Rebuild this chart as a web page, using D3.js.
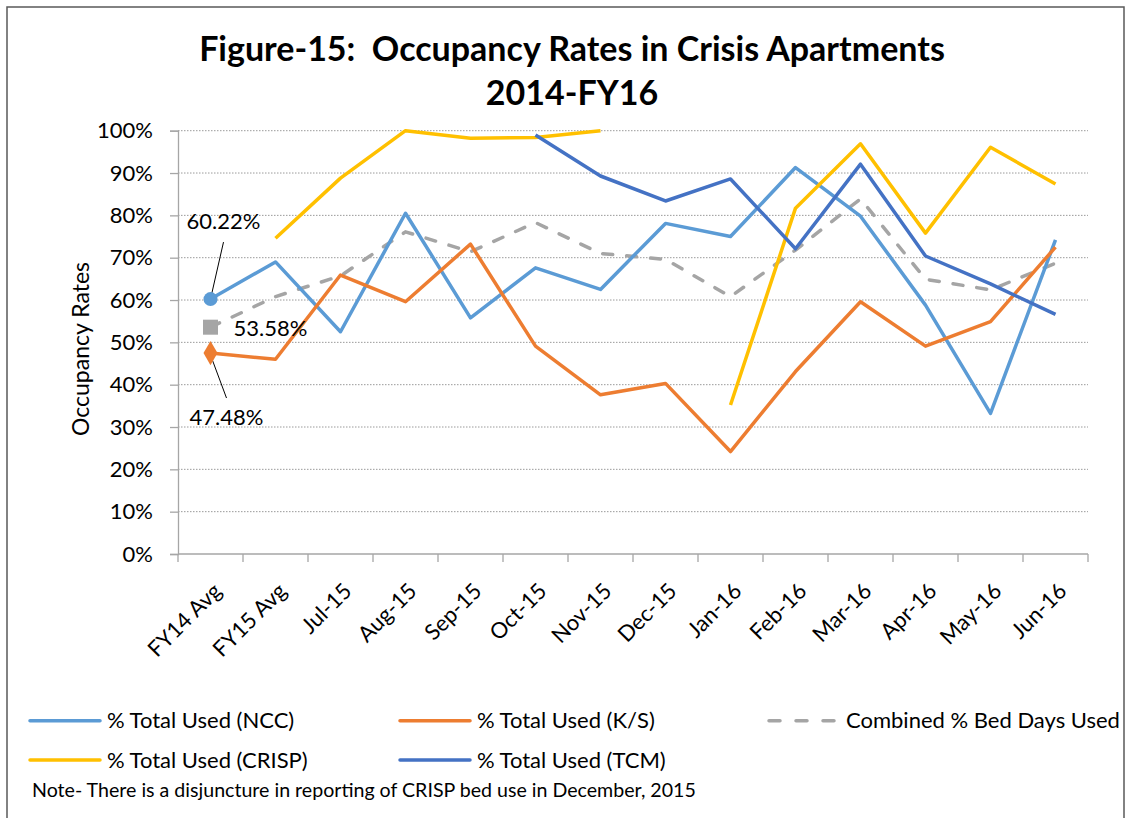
<!DOCTYPE html>
<html>
<head>
<meta charset="utf-8">
<script src="https://cdn.jsdelivr.net/npm/d3@7"></script>
<style>
  body { margin: 0; background: #fff; }
  svg { display: block; font-family: Lato, "Open Sans", sans-serif; }
</style>
</head>
<body>
<div id="chart"></div>
<script>
// categories on the x axis
const categories = ['FY14 Avg', 'FY15 Avg', 'Jul-15', 'Aug-15', 'Sep-15', 'Oct-15', 'Nov-15',
   'Dec-15', 'Jan-16', 'Feb-16', 'Mar-16', 'Apr-16', 'May-16', 'Jun-16']

// series values (percent), null = no report
const ncc = [60.22, 69.0, 52.5, 80.5, 55.8, 67.6, 62.5, 78.1, 75.0, 91.3, 79.8, 58.8, 33.2, 74.2]
const ks = [47.48, 46.0, 65.9, 59.6, 73.2, 49.1, 37.6, 40.3, 24.2, 43.1, 59.6, 49.1, 54.9, 72.5]
const combined = [53.58, 60.8, 65.7, 76.1, 71.4, 78.3, 71.0, 69.6, 60.8, 71.8, 83.9, 64.9, 62.4, 68.7]
const crisp = [null, 74.6, 88.8, 100, 98.2, 98.4, 100, null, 35.2, 81.7, 96.9, 75.8, 96.1, 87.4]
const tcm = [null, null, null, null, null, 99.0, 89.3, 83.4, 88.6, 72.1, 92.1, 70.4, 63.8, 56.6]

const yTicks = [0, 10, 20, 30, 40, 50, 60, 70, 80, 90, 100]

const seriesNames = ['% Total Used (NCC)', '% Total Used (K/S)', 'Combined % Bed Days Used',
   '% Total Used (CRISP)', '% Total Used (TCM)']

const series = [
   { name: seriesNames[0], values: ncc, color: '#5B9BD5' },
   { name: seriesNames[1], values: ks, color: '#ED7D31' },
   { name: seriesNames[2], values: combined, color: '#A5A5A5', dash: '10 14' },
   { name: seriesNames[3], values: crisp, color: '#FFC000' },
   { name: seriesNames[4], values: tcm, color: '#4472C4' },
]
// draw order (back to front) as in the original
const drawOrder = [2, 0, 1, 3, 4]

const width = 1131
const height = 818
const plot = { left: 178, right: 1088, top: 130.7, bottom: 554 }

const svg = d3.select('#chart').append('svg')
   .attr('width', width)
   .attr('height', height)

svg.append('rect')
   .attr('x', 7).attr('y', 7)
   .attr('width', 1117).attr('height', 840)
   .attr('fill', '#fff')
   .attr('stroke', '#595959')
   .attr('stroke-width', 1.5)

const x = d3.scaleBand().domain(categories).range([plot.left, plot.right])
const cx = d => x(d) + x.bandwidth() / 2
const y = d3.scaleLinear().domain([0, 100]).range([plot.bottom, plot.top])

// title
const title = svg.append('g')
   .attr('font-weight', 'bold')
   .attr('font-size', 34)
   .attr('text-anchor', 'middle')
title.append('text')
   .attr('x', 572).attr('y', 61)
   .style('white-space', 'pre')
   .text('Figure-15:  Occupancy Rates in Crisis Apartments')
title.append('text')
   .attr('x', 572).attr('y', 105)
   .text('2014-FY16')

// gridlines
svg.append('g')
   .selectAll('line')
   .data(yTicks.filter(d => d > 0))
   .join('line')
   .attr('x1', plot.left).attr('x2', plot.right)
   .attr('y1', d => y(d)).attr('y2', d => y(d))
   .attr('stroke', '#9a9a9a')
   .attr('stroke-width', 1)
   .attr('stroke-dasharray', '1.5 1.5')

// y axis
const yAxis = svg.append('g')
   .attr('transform', `translate(${plot.left},0)`)
   .call(d3.axisLeft(y).tickValues(yTicks).tickFormat(d => d + '%').tickSize(8).tickPadding(17))
yAxis.select('.domain').attr('stroke', '#a6a6a6').attr('stroke-width', 1.3)
yAxis.selectAll('.tick line').attr('stroke', '#a6a6a6').attr('stroke-width', 1.3)
yAxis.selectAll('.tick text')
   .attr('font-size', 22)
   .attr('font-family', 'Lato, sans-serif')
   .attr('fill', '#000')

svg.append('text')
   .attr('transform', 'translate(89,349) rotate(-90)')
   .attr('text-anchor', 'middle')
   .attr('font-size', 23)
   .text('Occupancy Rates')

// x axis (ticks between categories)
const boundaries = categories.map(c => x(c)).concat([plot.right])
const xAxis = svg.append('g')
xAxis.append('line')
   .attr('x1', plot.left).attr('x2', plot.right)
   .attr('y1', plot.bottom).attr('y2', plot.bottom)
   .attr('stroke', '#a6a6a6').attr('stroke-width', 1.3)
xAxis.selectAll('.xtick')
   .data(boundaries)
   .join('line')
   .attr('class', 'xtick')
   .attr('x1', d => d).attr('x2', d => d)
   .attr('y1', plot.bottom).attr('y2', plot.bottom + 8)
   .attr('stroke', '#a6a6a6').attr('stroke-width', 1.3)
xAxis.selectAll('.xlabel')
   .data(categories)
   .join('text')
   .attr('class', 'xlabel')
   .attr('transform', d => `translate(${cx(d) + 7},${plot.bottom + 33}) rotate(-45)`)
   .attr('text-anchor', 'end')
   .attr('dy', '0.35em')
   .attr('font-size', 22)
   .text(d => d)

// lines
const line = d3.line()
   .defined(d => d.v != null)
   .x(d => cx(d.c))
   .y(d => y(d.v))

svg.append('g')
   .selectAll('path')
   .data(drawOrder.map(i => series[i]))
   .join('path')
   .attr('d', s => line(s.values.map((v, i) => ({ c: categories[i], v }))))
   .attr('fill', 'none')
   .attr('stroke', s => s.color)
   .attr('stroke-width', 3.5)
   .attr('stroke-linejoin', 'round')
   .attr('stroke-linecap', s => s.dash ? 'round' : 'butt')
   .attr('stroke-dasharray', s => s.dash || null)

// markers + labels on the first category
const fmt = v => d3.format('.2f')(v) + '%'
const x0 = cx(categories[0])
const marks = svg.append('g')

marks.append('line')
   .attr('x1', x0 + 13).attr('y1', y(ncc[0]) - 57)
   .attr('x2', x0).attr('y2', y(ncc[0]))
   .attr('stroke', '#000').attr('stroke-width', 1)
marks.append('circle')
   .attr('cx', x0).attr('cy', y(ncc[0])).attr('r', 7)
   .attr('fill', series[0].color)
marks.append('text')
   .attr('x', x0 + 13).attr('y', y(ncc[0]) - 70)
   .attr('text-anchor', 'middle')
   .attr('font-size', 22)
   .text(fmt(ncc[0]))

marks.append('rect')
   .attr('x', x0 - 7.5).attr('y', y(combined[0]) - 7.5)
   .attr('width', 15).attr('height', 15)
   .attr('fill', series[2].color)
marks.append('text')
   .attr('x', x0 + 23).attr('y', y(combined[0]) + 8.5)
   .attr('font-size', 22)
   .text(fmt(combined[0]))

marks.append('line')
   .attr('x1', x0).attr('y1', y(ks[0]) + 2)
   .attr('x2', x0 + 16).attr('y2', y(ks[0]) + 45)
   .attr('stroke', '#000').attr('stroke-width', 1)
marks.append('path')
   .attr('d', d3.symbol(d3.symbolDiamond, 170)())
   .attr('transform', `translate(${x0},${y(ks[0])})`)
   .attr('fill', series[1].color)
marks.append('text')
   .attr('x', x0 + 16).attr('y', y(ks[0]) + 72)
   .attr('text-anchor', 'middle')
   .attr('font-size', 22)
   .text(fmt(ks[0]))

// legend
const legendCols = [30, 400, 769]
const legendRows = [720.7, 760]
const legend = svg.append('g')
   .selectAll('g')
   .data(series)
   .join('g')
   .attr('transform', (d, i) => `translate(${legendCols[i % 3]},${legendRows[Math.floor(i / 3)]})`)
legend.append('line')
   .attr('x1', 0).attr('x2', 70)
   .attr('stroke', d => d.color)
   .attr('stroke-width', 3.5)
   .attr('stroke-linecap', 'round')
   .attr('stroke-dasharray', d => d.dash ? '11 16' : null)
legend.append('text')
   .attr('x', 77)
   .attr('dy', '0.35em')
   .attr('font-size', 22)
   .text(d => d.name)

svg.append('text')
   .attr('x', 32).attr('y', 797)
   .attr('font-size', 19.6)
   .text('Note- There is a disjuncture in reporting of CRISP bed use in December, 2015')
</script>
</body>
</html>
